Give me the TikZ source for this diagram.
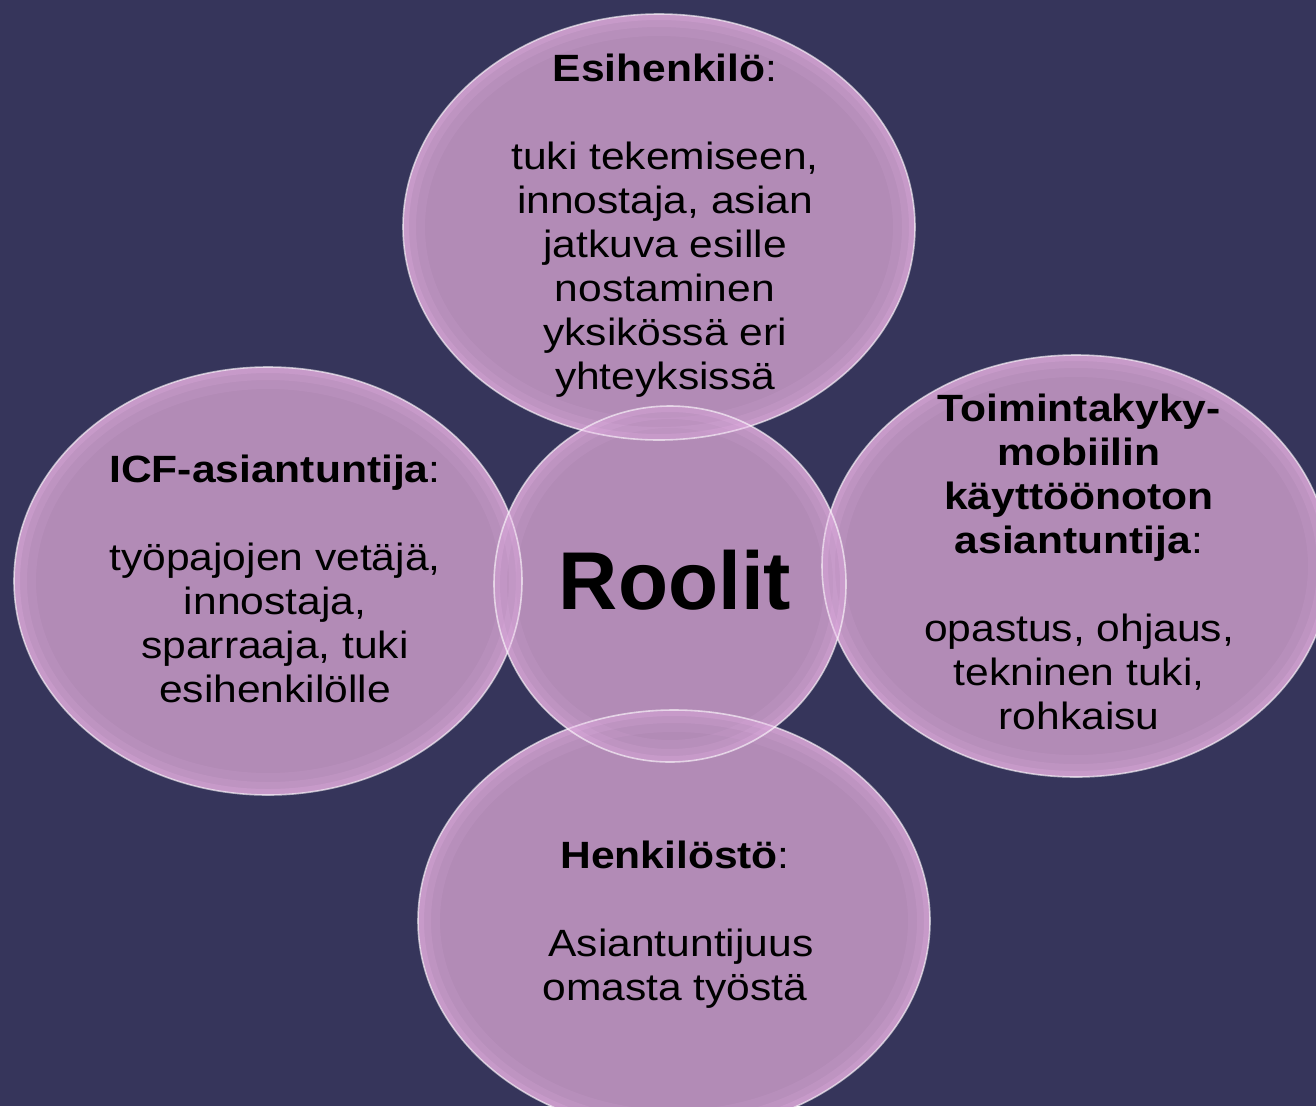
\documentclass[tikz,border=0pt]{standalone}
\usepackage{fontspec}
\setmainfont{Liberation Sans}
\newfontfamily\widefont[FakeStretch=1.12]{Liberation Sans}
\definecolor{bgc}{RGB}{54,53,91}
\definecolor{bub}{RGB}{178,139,182}
\definecolor{glowc}{RGB}{236,180,236}
\tikzset{
  txt/.style={align=center, inner sep=0pt, text=black, font=\widefont\fontsize{38}{44}\selectfont},
  bigtxt/.style={inner sep=0pt, text=black, font=\fontsize{82}{96}\selectfont\bfseries},
  bubblefill/.style={fill=bub},
  rimline/.style={draw=white, draw opacity=0.6, line width=1.6pt},
}
\newcommand\mybubfill[3]{\fill[bubblefill] (#1) ellipse [x radius=#2pt, y radius=#3pt];}
\newcommand\mybubrim[3]{%
  \begin{scope}
    \clip (#1) ellipse [x radius=#2pt, y radius=#3pt];
    \draw[glowc, line width=44pt, opacity=0.10] (#1) ellipse [x radius=#2pt, y radius=#3pt];
    \draw[glowc, line width=26pt, opacity=0.14] (#1) ellipse [x radius=#2pt, y radius=#3pt];
    \draw[glowc, line width=12pt, opacity=0.20] (#1) ellipse [x radius=#2pt, y radius=#3pt];
  \end{scope}
  \draw[rimline] (#1) ellipse [x radius=#2pt, y radius=#3pt];}
\begin{document}
\begin{tikzpicture}[x=1pt, y=-1pt]
  \useasboundingbox (0,0) rectangle (1316,1106);
  \fill[bgc] (0,0) rectangle (1316,1106);
  \clip (0,0) rectangle (1316,1106);
  % fills
  \mybubfill{659,227}{256}{213}
  \mybubfill{268,581}{254}{214}
  \mybubfill{1076,566}{254}{211}
  \mybubfill{674,921}{256}{211}
  \mybubfill{670,584}{176}{178}
  % rims
  \mybubrim{659,227}{256}{213}
  \mybubrim{268,581}{254}{214}
  \mybubrim{1076,566}{254}{211}
  \mybubrim{674,921}{256}{211}
  \mybubrim{670,584}{176}{178}
  % texts
  \node[txt] (top) at (665,226) {\textbf{Esihenkilö}:\\[44pt] tuki tekemiseen,\\ innostaja, asian\\ jatkuva esille\\ nostaminen\\ yksikössä eri\\ yhteyksissä};
  \node[txt] (left) at (275,579) {\textbf{ICF-asiantuntija}:\\[44pt] työpajojen vetäjä,\\ innostaja,\\ sparraaja, tuki\\ esihenkilölle};
  \node[txt] (right) at (1079,562) {\textbf{Toimintakyky-}\\ \textbf{mobiilin}\\ \textbf{käyttöönoton}\\ \textbf{asiantuntija}:\\[44pt] opastus, ohjaus,\\ tekninen tuki,\\ rohkaisu};
  \node[txt] (bottom) at (675,925) {\textbf{Henkilöstö}:\\[44pt] \mbox{ }Asiantuntijuus\\ omasta työstä};
  \node[bigtxt] (center) at (675,580) {Roolit};
\end{tikzpicture}
\end{document}
